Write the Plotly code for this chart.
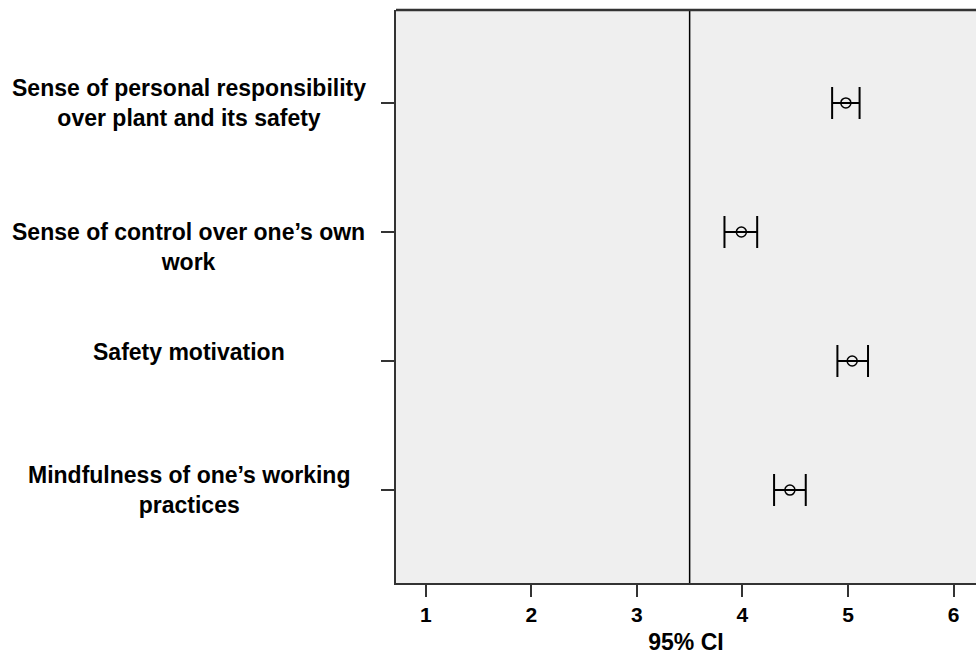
import plotly.graph_objects as go

categories = [
    "Sense of personal responsibility over plant and its safety",
    "Sense of control over one\u2019s own work",
    "Safety motivation",
    "Mindfulness of one\u2019s working practices",
]
label_texts = [
    "Sense of personal responsibility<br>over plant and its safety",
    "Sense of control over one\u2019s own<br>work",
    "Safety motivation",
    "Mindfulness of one\u2019s working<br>practices",
]
label_shifts = [0, -15, 9, 0]
means = [4.98, 3.99, 5.04, 4.45]
lower = [4.85, 3.83, 4.90, 4.30]
upper = [5.11, 4.14, 5.19, 4.60]
x_tickvals = [1, 2, 3, 4, 5, 6]
reference_value = 3.5

W, H = 976, 655
ML, MR, MT, MB = 396, 0, 10, 72
FONT = "Liberation Sans, Arial, sans-serif"

fig = go.Figure()
fig.add_trace(go.Scatter(
    x=means, y=categories, mode="markers",
    marker=dict(symbol="circle-open", size=10, color="black", line=dict(width=1.5, color="black")),
    error_x=dict(type="data", symmetric=False,
                 array=[u - m for u, m in zip(upper, means)],
                 arrayminus=[m - l for m, l in zip(means, lower)],
                 color="black", thickness=2, width=16),
    showlegend=False, hoverinfo="skip",
))

fig.add_shape(type="line", xref="x", yref="paper", x0=reference_value, x1=reference_value,
              y0=0, y1=1, line=dict(color="black", width=1.5))

pw = W - ML - MR
for cat, txt, sh in zip(categories, label_texts, label_shifts):
    fig.add_annotation(text=txt, xref="paper", yref="y", x=(188.5 - ML) / pw, y=cat,
                       yshift=sh, xanchor="center", yanchor="middle", showarrow=False,
                       align="center",
                       font=dict(family=FONT, size=23, color="black", weight="bold"))

fig.update_layout(
    width=W, height=H, autosize=False,
    margin=dict(l=ML, r=MR, t=MT, b=MB, pad=0),
    paper_bgcolor="white", plot_bgcolor="#efefef",
    font=dict(family=FONT, color="black"),
)
fig.update_xaxes(
    range=[0.718, 6.213], tickvals=x_tickvals, ticks="outside", ticklen=12, tickwidth=1.5,
    tickcolor="#333333", showgrid=False, zeroline=False,
    showline=True, linecolor="#333333", linewidth=1.5, mirror=False,
    tickfont=dict(family=FONT, size=21, color="black", weight="bold"),
    title=dict(text="95% CI", font=dict(family=FONT, size=23, color="black", weight="bold"), standoff=12),
)
fig.update_yaxes(
    type="category", categoryorder="array", categoryarray=categories,
    range=[3.72, -0.72], showticklabels=False, ticks="outside", ticklen=13, tickwidth=2,
    tickcolor="#333333", showgrid=False, zeroline=False,
    showline=True, linecolor="#333333", linewidth=2, mirror=False,
)
fig.add_shape(type="line", xref="paper", yref="paper", x0=0, x1=1, y0=1, y1=1,
              line=dict(color="#333333", width=2.5))

fig.write_html("out.html", config={"displayModeBar": False},
               post_script="document.body.style.margin='0';document.body.style.overflow='hidden';")
